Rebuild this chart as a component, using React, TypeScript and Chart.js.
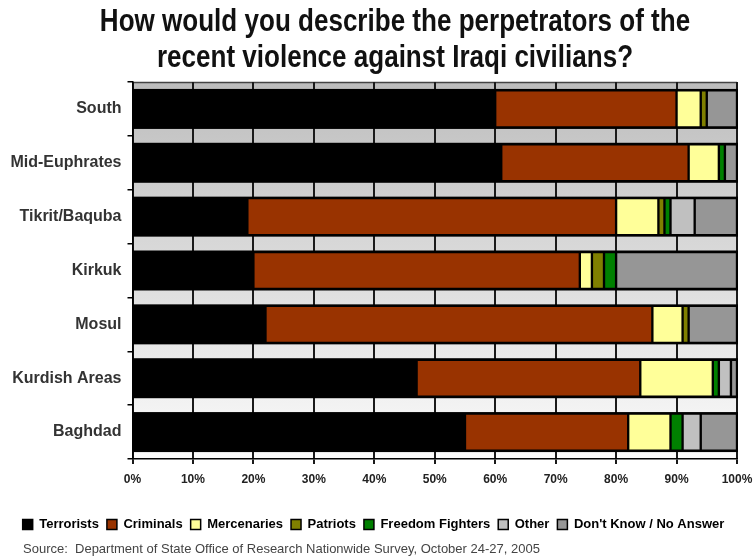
import React, { useEffect, useRef } from 'react';
import { Chart, registerables } from 'chart.js';

Chart.register(...registerables);

const categories = ['South', 'Mid-Euphrates', 'Tikrit/Baquba', 'Kirkuk', 'Mosul', 'Kurdish Areas', 'Baghdad'];

const terrorists = [60, 61, 19, 20, 22, 47, 55];
const criminals = [30, 31, 61, 54, 64, 37, 27];
const mercenaries = [4, 5, 7, 2, 5, 12, 7];
const patriots = [1, 0, 1, 2, 1, 0, 0];
const freedomFighters = [0, 1, 1, 2, 0, 1, 2];
const other = [0, 0, 4, 0, 0, 2, 3];
const dontKnow = [5, 2, 7, 20, 8, 1, 6];

const seriesNames = ['Terrorists', 'Criminals', 'Mercenaries', 'Patriots', 'Freedom Fighters', 'Other', "Don't Know / No Answer"];
const seriesColors = ['#000000', '#993300', '#FFFF99', '#808000', '#008000', '#C0C0C0', '#969696'];

const xTickLabels = ['0%', '10%', '20%', '30%', '40%', '50%', '60%', '70%', '80%', '90%', '100%'];

const titleLines = ['How would you describe the perpetrators of the', 'recent violence against Iraqi civilians?'];
const sourceText = 'Source:  Department of State Office of Research Nationwide Survey, October 24-27, 2005';

const FONT = "'Liberation Sans', Arial, sans-serif";

const plotBackground = {
  id: 'plotBackground',
  beforeDraw(chart: any) {
    const { ctx, chartArea: a } = chart;
    const g = ctx.createLinearGradient(0, a.top, 0, a.bottom);
    g.addColorStop(0, '#bdbdbd');
    g.addColorStop(1, '#fbfbfb');
    ctx.save();
    ctx.fillStyle = g;
    ctx.fillRect(a.left, a.top, a.right - a.left, a.bottom - a.top);
    ctx.strokeStyle = '#444';
    ctx.lineWidth = 1.5;
    ctx.beginPath();
    ctx.moveTo(a.left, a.top + 0.5);
    ctx.lineTo(a.right, a.top + 0.5);
    ctx.stroke();
    ctx.restore();
  },
};

const barBands = {
  id: 'barBands',
  beforeDatasetsDraw(chart: any) {
    const { ctx } = chart;
    const xs = chart.scales.x;
    const meta = chart.getDatasetMeta(0);
    const x0 = xs.getPixelForValue(0);
    const x1 = xs.getPixelForValue(100);
    ctx.save();
    ctx.fillStyle = '#000';
    meta.data.forEach((el: any) => {
      const { y, height } = el.getProps(['y', 'height'], true);
      const ext = 1.5;
      ctx.fillRect(x0, y - height / 2 - ext, x1 - x0 + 1, height + ext * 2);
    });
    ctx.restore();
  },
};

const textBlocks = {
  id: 'textBlocks',
  afterDraw(chart: any) {
    const { ctx } = chart;
    ctx.save();
    ctx.fillStyle = '#111';
    ctx.font = `bold 31px ${FONT}`;
    ctx.textAlign = 'center';
    ctx.textBaseline = 'middle';
    ctx.translate(395, 0);
    ctx.scale(0.84, 1);
    titleLines.forEach((t, i) => ctx.fillText(t, 0, 22 + i * 36));
    ctx.restore();

    ctx.save();
    ctx.fillStyle = '#444';
    ctx.font = `13px ${FONT}`;
    ctx.textAlign = 'left';
    ctx.textBaseline = 'middle';
    ctx.fillText(sourceText, 23, 549);
    ctx.restore();
  },
};

export default function App() {
  const ref = useRef<HTMLCanvasElement | null>(null);

  useEffect(() => {
    if (!ref.current) return;
    Chart.defaults.font.family = FONT;
    const series = [terrorists, criminals, mercenaries, patriots, freedomFighters, other, dontKnow];
    const chart = new Chart(ref.current, {
      type: 'bar',
      data: {
        labels: categories,
        datasets: series.map((d, i) => ({
          label: seriesNames[i],
          data: d,
          backgroundColor: seriesColors[i],
          borderColor: '#000',
          borderWidth: 1.5,
          borderSkipped: false,
          barThickness: 37,
        })),
      },
      options: {
        indexAxis: 'y',
        animation: false,
        responsive: false,
        layout: { padding: { left: 10, right: 17, top: 82, bottom: 19 } },
        scales: {
          x: {
            type: 'linear',
            stacked: true,
            min: 0,
            max: 100,
            ticks: {
              stepSize: 10,
              callback: (_v: any, i: number) => xTickLabels[i],
              font: { size: 12, weight: 'bold' },
              color: '#222',
              padding: 8,
              maxRotation: 0,
            },
            grid: { color: '#1a1a1a', lineWidth: 2, tickLength: 5, drawTicks: true },
            border: { color: '#000', width: 1.5 },
            afterFit: (s: any) => {
              s.height = 51;
              s.paddingLeft = 0;
              s.paddingRight = 0;
            },
          },
          y: {
            type: 'category',
            stacked: true,
            ticks: { font: { size: 16, weight: 'bold' }, color: '#333', padding: 6 },
            grid: { drawOnChartArea: false, color: '#000', tickLength: 5, lineWidth: 1.5, offset: true },
            border: { color: '#000', width: 1.5 },
            afterFit: (s: any) => { s.width = 122.5; },
          },
        },
        plugins: {
          tooltip: { enabled: false },
          title: { display: false },
          legend: {
            position: 'bottom',
            labels: {
              boxWidth: 10,
              boxHeight: 10,
              padding: 8,
              font: { size: 13, weight: 'bold' },
              color: '#000',
            },
          },
        },
      },
      plugins: [plotBackground, barBands, textBlocks],
    } as any);
    return () => chart.destroy();
  }, []);

  return (
    <div style={{ position: 'fixed', left: 0, top: 0, width: 754, height: 560, background: '#fff' }}>
      <canvas ref={ref} width={754} height={560} style={{ display: 'block' }} />
    </div>
  );
}
